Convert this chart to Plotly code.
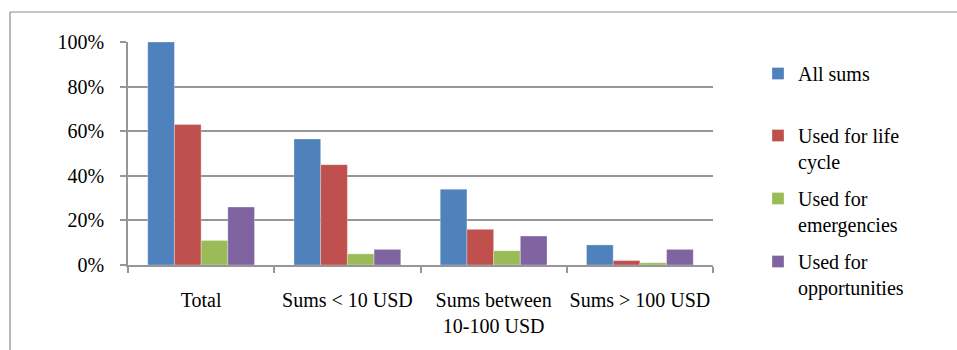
import plotly.graph_objects as go

# Share of remittance sums by use, per size band
categories = ["Total", "Sums < 10 USD", "Sums between<br>10-100 USD", "Sums > 100 USD"]
all_sums = [1.00, 0.565, 0.34, 0.09]
life_cycle = [0.63, 0.45, 0.16, 0.02]
emergencies = [0.11, 0.05, 0.064, 0.01]
opportunities = [0.26, 0.07, 0.13, 0.07]

series_names = ["All sums", "Used for life<br>cycle", "Used for<br>emergencies", "Used for<br>opportunities"]
series_values = [all_sums, life_cycle, emergencies, opportunities]
series_colors = ["#4F81BD", "#C0504D", "#9BBB59", "#8064A2"]
series_legends = ["legend", "legend2", "legend2", "legend2"]

FONT = "Liberation Serif"
FS = 20
GRID = "#969696"

W, H = 957, 350
L, R, T, B = 128, 244, 42, 85
pw, ph = W - L - R, H - T - B

fig = go.Figure()
for i, (name, vals, col, lg) in enumerate(zip(series_names, series_values, series_colors, series_legends)):
    fig.add_trace(go.Bar(
        x=categories, y=vals, name=name,
        marker=dict(color=col, line=dict(color="rgba(255,255,255,0.5)", width=0.6)),
        legend=lg, legendgroup=f"g{i}", showlegend=True,
    ))

def px_x(x):
    return (x - L) / pw

def px_y(y):
    return (H - B - y) / ph

legend_common = dict(
    font=dict(family=FONT, size=FS, color="#000000"),
    bgcolor="rgba(0,0,0,0)", xanchor="left", yanchor="top",
    valign="top", itemclick=False, itemdoubleclick=False, maxheight=600,
)

fig.update_layout(
    width=W, height=H,
    margin=dict(l=L, r=R, t=T, b=B, autoexpand=False),
    paper_bgcolor="white", plot_bgcolor="white",
    showlegend=True,
    barmode="group", bargap=0.27, bargroupgap=0,
    font=dict(family=FONT, size=FS, color="#000000"),
    legend=dict(x=px_x(758), y=px_y(54), tracegroupgap=0, **legend_common),
    legend2=dict(x=px_x(758), y=px_y(116), tracegroupgap=8, **legend_common),
    xaxis=dict(
        showline=True, linecolor=GRID, linewidth=1.5,
        ticks="outside", tickson="boundaries", ticklen=6, tickcolor=GRID, tickwidth=1.5,
        ticklabelstandoff=16, showgrid=False, tickangle=0, automargin=False,
    ),
    yaxis=dict(
        range=[0, 1.0], dtick=0.2, tickformat=".0%",
        showline=True, linecolor=GRID, linewidth=1.5,
        ticks="outside", ticklen=6, tickcolor=GRID, tickwidth=1.5,
        showgrid=True, gridcolor=GRID, gridwidth=1.5,
        ticklabelstandoff=12, zeroline=False, automargin=False,
    ),
    shapes=[
        dict(type="line", xref="paper", yref="paper",
             x0=px_x(10), x1=px_x(10), y0=px_y(12), y1=px_y(H + 5),
             line=dict(color="#8c8c8c", width=1.2)),
        dict(type="line", xref="paper", yref="paper",
             x0=px_x(10), x1=px_x(W + 5), y0=px_y(12), y1=px_y(12),
             line=dict(color="#8c8c8c", width=1.2)),
    ],
)

fig.write_html("out.html")
